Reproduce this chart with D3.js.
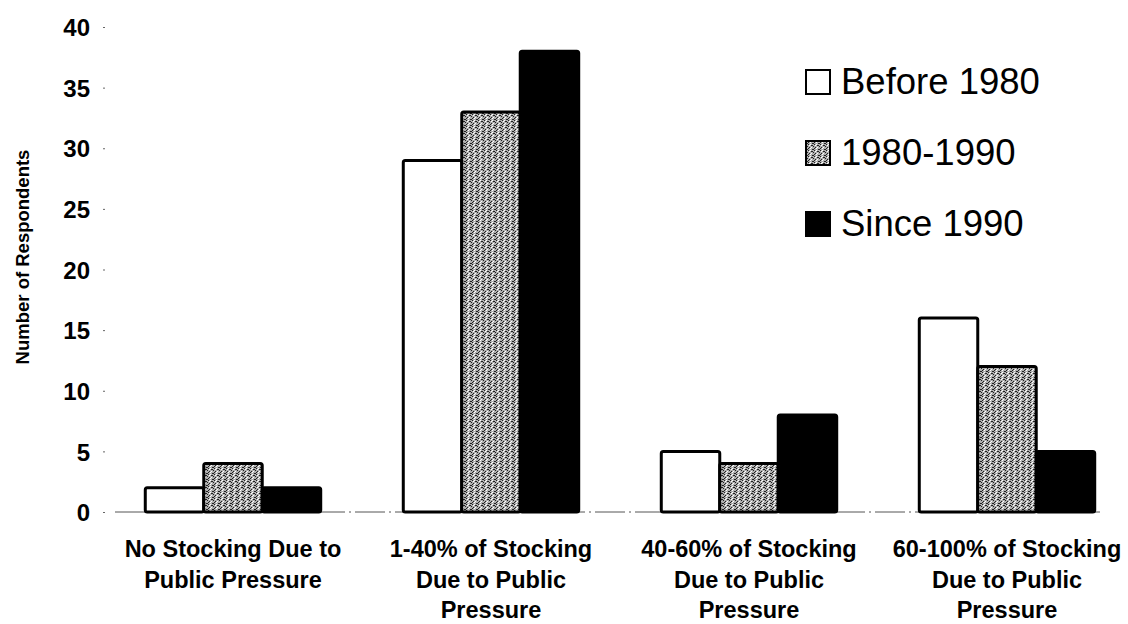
<!DOCTYPE html>
<html><head><meta charset="utf-8">
<script src="https://cdn.jsdelivr.net/npm/d3@7"></script>
<style>body{margin:0;background:#fff}</style>
</head><body>
<svg id="c" width="1128" height="624"></svg>
<script>
const categories = [
  ["No Stocking Due to","Public Pressure"],
  ["1-40% of Stocking","Due to Public","Pressure"],
  ["40-60% of Stocking","Due to Public","Pressure"],
  ["60-100% of Stocking","Due to Public","Pressure"]
];
const seriesNames = ["Before 1980","1980-1990","Since 1990"];
const before1980 = [2, 29, 5, 16];
const y1980_1990 = [4, 33, 4, 12];
const since1990 = [2, 38, 8, 5];
const yTicks = [0,5,10,15,20,25,30,35,40];

const series = [before1980, y1980_1990, since1990];
const svg = d3.select("#c");
const defs = svg.append("defs");
const pat = defs.append("pattern").attr("id","stip").attr("patternUnits","userSpaceOnUse")
  .attr("width",6).attr("height",6);
pat.append("rect").attr("width",6).attr("height",6).attr("fill","#b0b0b0");
[[0,0],[2,1],[4,0],[1,3],[3,2],[5,3],[0,4],[2,5],[4,4],[5,1],[1,1],[3,5]].forEach(([x,y],i)=>{
  pat.append("rect").attr("x",x).attr("y",y).attr("width",1).attr("height",1)
    .attr("fill", i%3===0 ? "#fff" : "#222");
});
const fills = ["#fff","url(#stip)","#000"];

const y = d3.scaleLinear().domain([0,40]).range([512,27]);
const x0 = d3.scaleBand().domain(d3.range(categories.length)).range([104,1136])
  .paddingInner(0.32).paddingOuter(0.16);
const x1 = d3.scaleBand().domain(d3.range(series.length)).range([0,x0.bandwidth()]);

// x axis line
svg.append("line").attr("x1",115).attr("x2",1100).attr("y1",y(0)).attr("y2",y(0))
  .attr("stroke","#555").attr("stroke-width",1).attr("stroke-dasharray","30,4,2,4");

// y axis ticks (no line)
const yAxis = svg.append("g").attr("transform","translate(105,0)")
  .call(d3.axisLeft(y).tickValues(yTicks).tickSize(2).tickPadding(13));
yAxis.select(".domain").remove();
yAxis.selectAll("text").attr("font-family","Liberation Sans, Arial").attr("font-weight","bold")
  .attr("font-size",24).attr("fill","#000").attr("dy","0.36em");
yAxis.selectAll("line").attr("stroke","#666");

// bars
const g = svg.append("g");
categories.forEach((c,i)=>{
  series.forEach((s,j)=>{
    g.append("rect")
      .attr("x", x0(i)+x1(j)).attr("width", x1.bandwidth())
      .attr("y", y(s[i])).attr("height", y(0)-y(s[i]))
      .attr("fill", fills[j]).attr("stroke","#000").attr("stroke-width",3)
      .attr("rx",2);
  });
});

// x labels
categories.forEach((lines,i)=>{
  const t = svg.append("text").attr("text-anchor","middle")
    .attr("font-family","Liberation Sans, Arial").attr("font-weight","bold")
    .attr("font-size",23.5).attr("fill","#000");
  lines.forEach((ln,k)=>{
    t.append("tspan").attr("x", x0(i)+x0.bandwidth()/2).attr("y", 557+k*30.5).text(ln);
  });
});

// y title
svg.append("text").attr("transform","translate(29,257) rotate(-90)")
  .attr("text-anchor","middle").attr("font-family","Liberation Sans, Arial")
  .attr("font-weight","bold").attr("font-size",18.5).text("Number of Respondents");

// legend
const lg = svg.append("g");
seriesNames.forEach((n,j)=>{
  const base = 94 + j*71;
  lg.append("rect").attr("x",806).attr("y",base-24).attr("width",24).attr("height",24)
    .attr("fill",fills[j]).attr("stroke","#000").attr("stroke-width",2);
  lg.append("text").attr("x",841).attr("y",base)
    .attr("font-family","Liberation Sans, Arial")
    .attr("font-size",36.5).attr("fill","#000").text(n);
});
</script>
</body></html>
